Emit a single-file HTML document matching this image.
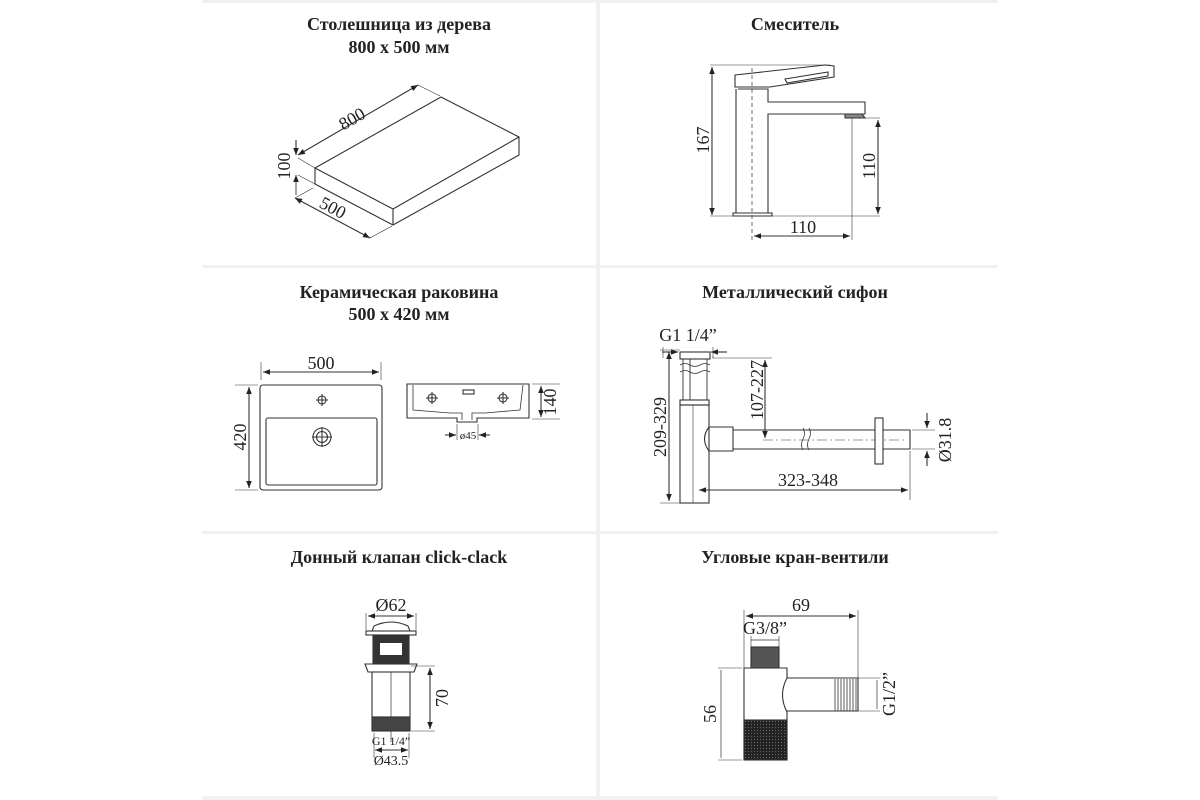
<!DOCTYPE html>
<html><head><meta charset="utf-8"><style>
html,body{margin:0;padding:0;background:#fff;}
svg{display:block}
text{font-family:"Liberation Serif","DejaVu Serif",serif;fill:#222}
.t{font-weight:bold;font-size:18px;text-anchor:middle}
.d{font-size:18px}
</style></head><body>
<svg width="1200" height="800" viewBox="0 0 1200 800" xmlns="http://www.w3.org/2000/svg">
<defs>
<marker id="a" viewBox="0 0 10 10" refX="10" refY="5" markerWidth="9" markerHeight="7" orient="auto-start-reverse" markerUnits="userSpaceOnUse"><path d="M0,1 L10,5 L0,9z" fill="#222"/></marker>
<pattern id="k" width="3" height="3" patternUnits="userSpaceOnUse"><rect width="3" height="3" fill="#222"/><circle cx="1.5" cy="1.5" r="0.6" fill="#666"/></pattern>
</defs>
<g fill="#f1f1f1">
<rect x="202" y="0" width="796" height="3"/>
<rect x="202" y="265" width="796" height="3"/>
<rect x="202" y="531" width="796" height="3"/>
<rect x="202" y="796" width="796" height="4"/>
<rect x="596" y="0" width="4" height="800"/>
</g>
<g stroke="#333" stroke-width="1.1" fill="none">

<path d="M315,168 L441,97 L519,137 L519,155 L393,225 L315,184 Z"/>
<path d="M315,168 L393,209 L519,137 M393,209 L393,225"/>
<line x1="298" y1="155" x2="418" y2="85" marker-start="url(#a)" marker-end="url(#a)"/>
<line x1="418" y1="85" x2="440" y2="96" stroke-width="0.6"/>
<line x1="296" y1="140" x2="296" y2="155" marker-end="url(#a)"/>
<line x1="296" y1="175" x2="296" y2="195" marker-start="url(#a)" stroke-width="0.9"/>
<line x1="298" y1="158" x2="315" y2="168" stroke-width="0.6"/>
<line x1="298" y1="175" x2="315" y2="184" stroke-width="0.6"/>
<line x1="295" y1="198" x2="370" y2="238" marker-start="url(#a)" marker-end="url(#a)"/>
<line x1="295" y1="198" x2="313" y2="188" stroke-width="0.6"/>
<line x1="370" y1="238" x2="392" y2="226" stroke-width="0.6"/>

<line x1="710" y1="65" x2="830" y2="65" stroke-width="0.6"/>
<line x1="712" y1="67" x2="712" y2="215" marker-start="url(#a)" marker-end="url(#a)"/>
<line x1="710" y1="216" x2="880" y2="216" stroke-width="0.6"/>
<path d="M735,75 L825,65 L834,66 L834,77 L770,87 L735,87 Z"/>
<path d="M785,79 L828,72 L828,76 L787,83 Z"/>
<path d="M738,89 L768,89 L768,102 L865,102 L865,114 L768,114 L768,213 L736,213 L736,89"/>
<path d="M733,213 L772,213 L772,216 L733,216 Z"/>
<path d="M845,114 L862,114 L865,118 L845,118 Z" fill="#888"/>
<line x1="752" y1="68" x2="752" y2="240" stroke-dasharray="4,3" stroke-width="0.7"/>
<line x1="852" y1="118" x2="852" y2="240" stroke-width="0.6"/>
<line x1="855" y1="118" x2="880" y2="118" stroke-width="0.6"/>
<line x1="878" y1="120" x2="878" y2="214" marker-start="url(#a)" marker-end="url(#a)"/>
<line x1="754" y1="236" x2="850" y2="236" marker-start="url(#a)" marker-end="url(#a)"/>

<line x1="261" y1="362" x2="261" y2="380" stroke-width="0.6"/>
<line x1="381" y1="362" x2="381" y2="380" stroke-width="0.6"/>
<line x1="263" y1="372" x2="379" y2="372" marker-start="url(#a)" marker-end="url(#a)"/>
<rect x="260" y="385" width="122" height="105" rx="3"/>
<rect x="266" y="418" width="111" height="67" rx="2"/>
<circle cx="322" cy="400" r="4"/><path d="M316,400h12M322,394v12"/>
<circle cx="322" cy="437" r="9"/><circle cx="322" cy="437" r="5.5"/><path d="M312,437h20M322,427v20"/>
<line x1="235" y1="385" x2="258" y2="385" stroke-width="0.6"/>
<line x1="235" y1="490" x2="258" y2="490" stroke-width="0.6"/>
<line x1="249" y1="387" x2="249" y2="488" marker-start="url(#a)" marker-end="url(#a)"/>
<path d="M407,384 L529,384 L529,418 L477,418 L477,422 L457,422 L457,418 L407,418 Z"/>
<path d="M413,385 L413,410 L450,413 L462,413 L462,420 M472,420 L472,413 L485,413 L520,410 L523,385" stroke-width="0.8"/>
<rect x="463" y="390" width="11" height="4"/>
<circle cx="432" cy="398" r="4"/><path d="M426,398h12M432,392v12"/>
<circle cx="503" cy="398" r="4"/><path d="M497,398h12M503,392v12"/>
<line x1="532" y1="384" x2="560" y2="384" stroke-width="0.6"/>
<line x1="532" y1="419" x2="560" y2="419" stroke-width="0.6"/>
<line x1="541" y1="386" x2="541" y2="417" marker-start="url(#a)" marker-end="url(#a)"/>
<line x1="457" y1="424" x2="457" y2="440" stroke-width="0.6"/>
<line x1="478" y1="424" x2="478" y2="440" stroke-width="0.6"/>
<line x1="445" y1="435" x2="456" y2="435" marker-end="url(#a)"/>
<line x1="490" y1="435" x2="479" y2="435" marker-end="url(#a)"/>

<line x1="663" y1="347" x2="663" y2="358" stroke-width="0.6"/>
<line x1="713" y1="347" x2="713" y2="358" stroke-width="0.6"/>
<line x1="662" y1="352" x2="678" y2="352" marker-end="url(#a)"/>
<line x1="727" y1="352" x2="711" y2="352" marker-end="url(#a)"/>
<rect x="680" y="352" width="30" height="7"/>
<path d="M683,359 V400 M707,359 V400 M690,359 V400" stroke-width="0.9"/>
<path d="M680,365 q5,-3 10,0 t10,0 t10,0 M680,372 q5,-3 10,0 t10,0 t10,0" stroke-width="0.8"/>
<rect x="680" y="400" width="29" height="5"/>
<rect x="680" y="405" width="29" height="98"/>
<line x1="693" y1="405" x2="693" y2="503" stroke-width="0.6"/>
<path d="M709,427 L733,427 L733,451 L709,451 Q700,439 709,427 Z"/>
<path d="M733,430 L910,430 L910,449 L733,449"/>
<line x1="763" y1="440" x2="905" y2="440" stroke-dasharray="10,3,2,3" stroke-width="0.6"/>
<rect x="875" y="418" width="8" height="46" fill="#fff"/>
<path d="M803,428 q3,5 0,11 t0,11 M809,428 q3,5 0,11 t0,11" stroke-width="0.8"/>
<line x1="712" y1="358" x2="772" y2="358" stroke-width="0.6"/>
<line x1="765" y1="360" x2="765" y2="438" marker-start="url(#a)" marker-end="url(#a)"/>
<line x1="660" y1="350" x2="680" y2="350" stroke-width="0.6"/>
<line x1="669" y1="352" x2="669" y2="501" marker-start="url(#a)" marker-end="url(#a)"/>
<line x1="660" y1="503" x2="680" y2="503" stroke-width="0.6"/>
<line x1="912" y1="430" x2="935" y2="430" stroke-width="0.6"/>
<line x1="912" y1="449" x2="935" y2="449" stroke-width="0.6"/>
<line x1="927" y1="413" x2="927" y2="428" marker-end="url(#a)"/>
<line x1="927" y1="466" x2="927" y2="451" marker-end="url(#a)"/>
<line x1="910" y1="451" x2="910" y2="500" stroke-width="0.6"/>
<line x1="699" y1="490" x2="908" y2="490" marker-start="url(#a)" marker-end="url(#a)"/>

<line x1="366" y1="613" x2="366" y2="630" stroke-width="0.6"/>
<line x1="416" y1="613" x2="416" y2="630" stroke-width="0.6"/>
<line x1="368" y1="616" x2="414" y2="616" marker-start="url(#a)" marker-end="url(#a)"/>
<path d="M374,626 Q391,618 408,626 L410,631 L372,631 Z"/>
<rect x="366" y="631" width="50" height="4"/>
<rect x="373" y="635" width="36" height="29" fill="#333"/>
<rect x="380" y="643" width="22" height="12" fill="#fff" stroke="none"/>
<path d="M365,664 L417,664 L414,672 L368,672 Z"/>
<rect x="372" y="672" width="38" height="45"/>
<line x1="391" y1="672" x2="391" y2="742" stroke-width="0.7"/>
<rect x="372" y="717" width="38" height="14" fill="#444"/>
<line x1="411" y1="666" x2="435" y2="666" stroke-width="0.6"/>
<line x1="411" y1="731" x2="435" y2="731" stroke-width="0.6"/>
<line x1="430" y1="668" x2="430" y2="729" marker-start="url(#a)" marker-end="url(#a)"/>
<path d="M374,733 V758 M409,733 V758" stroke-width="0.6"/>
<line x1="375" y1="750" x2="408" y2="750" marker-start="url(#a)" marker-end="url(#a)"/>

<line x1="744" y1="610" x2="744" y2="668" stroke-width="0.6"/>
<line x1="858" y1="610" x2="858" y2="680" stroke-width="0.6"/>
<line x1="746" y1="616" x2="856" y2="616" marker-start="url(#a)" marker-end="url(#a)"/>
<line x1="751" y1="640" x2="779" y2="640" stroke-width="0.7"/>
<line x1="751" y1="636" x2="779" y2="636" stroke-width="0" />
<line x1="751" y1="636" x2="751" y2="650" stroke-width="0.6"/>
<line x1="779" y1="636" x2="779" y2="650" stroke-width="0.6"/>
<rect x="751" y="647" width="28" height="21" fill="#555"/>
<path d="M744,668 L787,668 L787,678 Q778,695 787,712 L787,760 L744,760 Z"/>
<rect x="744" y="720" width="43" height="40" fill="url(#k)"/>
<path d="M787,678 L858,678 L858,711 L787,711"/>
<g stroke-width="0.8"><path d="M835,679V711M838,679V711M841,679V711M844,679V711M847,679V711M850,679V711M853,679V711M856,679V711"/></g>
<line x1="858" y1="678" x2="880" y2="678" stroke-width="0.6"/>
<line x1="858" y1="711" x2="880" y2="711" stroke-width="0.6"/>
<line x1="877" y1="680" x2="877" y2="709" stroke-width="0.7"/>
<line x1="718" y1="668" x2="742" y2="668" stroke-width="0.6"/>
<line x1="718" y1="760" x2="742" y2="760" stroke-width="0.6"/>
<line x1="721" y1="670" x2="721" y2="758" stroke-width="0.7"/>
</g>

<text class="t" x="399" y="30">Столешница из дерева</text>
<text class="t" x="399" y="53">800 x 500 мм</text>
<text class="t" x="795" y="30">Смеситель</text>
<text class="t" x="399" y="298">Керамическая раковина</text>
<text class="t" x="399" y="320">500 x 420 мм</text>
<text class="t" x="795" y="298">Металлический сифон</text>
<text class="t" x="399" y="563">Донный клапан click-clack</text>
<text class="t" x="795" y="563">Угловые кран-вентили</text>

<text class="d" transform="translate(355,124) rotate(-30)" text-anchor="middle">800</text>
<text class="d" transform="translate(290,166) rotate(-90)" text-anchor="middle">100</text>
<text class="d" transform="translate(330,213) rotate(28)" text-anchor="middle">500</text>
<text class="d" transform="translate(709,140) rotate(-90)" text-anchor="middle">167</text>
<text class="d" transform="translate(875,166) rotate(-90)" text-anchor="middle">110</text>
<text class="d" x="803" y="233" text-anchor="middle">110</text>
<text class="d" x="321" y="369" text-anchor="middle">500</text>
<text class="d" transform="translate(246,437) rotate(-90)" text-anchor="middle">420</text>
<text class="d" transform="translate(556,402) rotate(-90)" text-anchor="middle">140</text>
<text x="468" y="439" font-size="11" text-anchor="middle">ø45</text>
<text class="d" x="688" y="341" text-anchor="middle">G1 1/4”</text>
<text class="d" transform="translate(666,427) rotate(-90)" text-anchor="middle">209-329</text>
<text class="d" transform="translate(763,390) rotate(-90)" text-anchor="middle">107-227</text>
<text class="d" transform="translate(951,440) rotate(-90)" text-anchor="middle">Ø31.8</text>
<text class="d" x="808" y="486" text-anchor="middle">323-348</text>
<text class="d" x="391" y="611" text-anchor="middle">Ø62</text>
<text class="d" transform="translate(448,698) rotate(-90)" text-anchor="middle">70</text>
<text x="391" y="745" font-size="12" text-anchor="middle">G1 1/4”</text>
<text x="391" y="765" font-size="14" text-anchor="middle">Ø43.5</text>
<text class="d" x="801" y="611" text-anchor="middle">69</text>
<text class="d" x="765" y="634" text-anchor="middle">G3/8”</text>
<text class="d" transform="translate(716,714) rotate(-90)" text-anchor="middle">56</text>
<text class="d" transform="translate(895,694) rotate(-90)" text-anchor="middle">G1/2”</text>
</svg>
</body></html>
